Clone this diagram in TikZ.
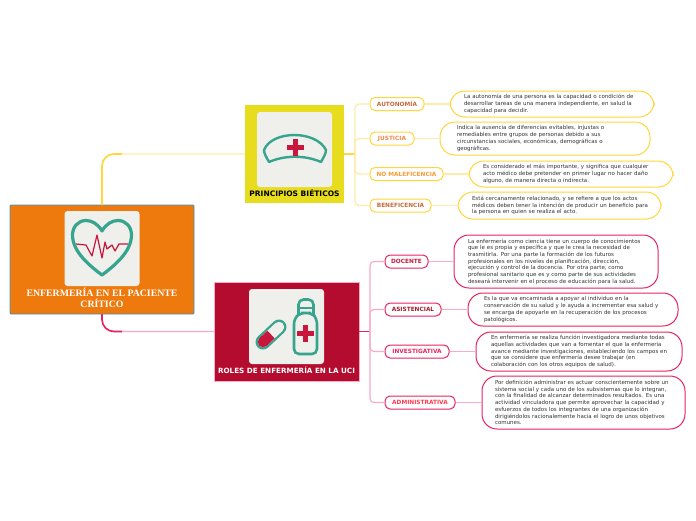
\documentclass[tikz,border=0pt]{standalone}
\usepackage{fontspec}
\setmainfont{DejaVu Sans}
\newfontfamily\titlefont{Liberation Serif}
\usetikzlibrary{positioning}

\definecolor{rootorange}{HTML}{EE7A0D}
\definecolor{rootblue}{HTML}{3C92C8}
\definecolor{bioyellow}{HTML}{E8DC1E}
\definecolor{rolered}{HTML}{B30C2E}
\definecolor{panelgrey}{HTML}{EFEFEC}
\definecolor{iconteal}{HTML}{37A58D}
\definecolor{iconred}{HTML}{C9163D}
\definecolor{lineyellow}{HTML}{FFEBA8}
\definecolor{edgeyellow}{HTML}{FFD63C}
\definecolor{linepink}{HTML}{F9AAC6}
\definecolor{edgepink}{HTML}{E6245F}
\definecolor{bodygrey}{HTML}{333333}
\definecolor{tagbrown}{HTML}{C8693B}
\definecolor{tagsalmon}{HTML}{F0884F}
\definecolor{tagorange}{HTML}{FF9A2E}
\definecolor{tagmaroon}{HTML}{A0202F}
\definecolor{tagscarlet}{HTML}{FF3B50}

\tikzset{
    panel/.style={fill=panelgrey, rounded corners=3pt, minimum width=75pt, minimum height=75pt, inner sep=0pt},
    topic/.style={inner sep=0pt, outer sep=0pt},
    headline/.style={inner sep=0pt, font=\bfseries\fontsize{#1}{8}\selectfont},
    tag/.style={draw=#1, fill=white, line width=1pt, rounded corners=5pt, inner sep=0pt, minimum height=13pt, font=\bfseries\fontsize{5.8}{6}\selectfont},
    detail/.style={draw=#1, fill=white, line width=1pt, rounded corners=15pt, inner ysep=0pt, inner xsep=4pt, align=left, text=bodygrey, font=\fontsize{5.5}{6.7}\selectfont},
    pad/.style={execute at begin node={\leftskip=#1pt}},
    yellowlink/.style={draw=lineyellow, line width=1.3pt, rounded corners=4pt},
    pinklink/.style={draw=linepink, line width=1.2pt, rounded corners=4pt}
}

\begin{document}
\begin{tikzpicture}[x=1pt, y=-1pt]
    \useasboundingbox (0,0) rectangle (696,520);

    % main topics
    \node[topic, fill=rootorange, draw=rootblue, line width=0.9pt, rounded corners=1pt, minimum width=184pt, minimum height=109pt] (root) at (102,259.5) {};
    \node[topic, fill=bioyellow, minimum width=99pt, minimum height=98pt] (bioetica) at (294.5,154) {};
    \node[topic, fill=rolered, draw=linepink, line width=0.5pt, minimum width=145pt, minimum height=99pt] (roles) at (286.5,331.5) {};

    % root links
    \draw[draw=lineyellow, line width=1.2pt, rounded corners=12pt] (root.north) |- (bioetica.west);
    \coordinate (rootbendtop) at (122,154);
    \draw[draw=edgeyellow, line width=1.6pt, rounded corners=12pt] (root.north) |- (rootbendtop);
    \draw[draw=linepink, line width=1.2pt, rounded corners=12pt] (root.south) |- (roles.west);
    \coordinate (rootbendlow) at (122,331.5);
    \draw[draw=edgepink, line width=1.6pt, rounded corners=12pt] (root.south) |- (rootbendlow);

    % pictures and titles
    \node[panel] (heartpanel) at (102,248.5) {};
    \node[panel] (cappanel) at (294.5,149.5) {};
    \node[panel] (bottlepanel) at (286.5,326.5) {};

    \node[inner sep=0pt, align=center, text=white, font=\titlefont\bfseries\fontsize{9.8}{11}\selectfont] (roottitle) at (102,298) {ENFERMERÍA EN EL PACIENTE\\CRÍTICO};
    \node[headline=7.5, text=black] (biotitle) at (294.5,193) {PRINCIPIOS BIÉTICOS};
    \node[headline=7.2, text=white] (rolestitle) at (286.5,370) {ROLES DE ENFERMERÍA EN LA UCI};

    % heart
    \draw[iconteal, line width=3.2pt, line join=round] (102,231) .. controls (98,224) and (92,220.5) .. (86,220.5) .. controls (78,220.5) and (72.5,227) .. (72.5,235) .. controls (72.5,252) and (90,266) .. (102,275) .. controls (114,266) and (131.5,252) .. (131.5,235) .. controls (131.5,227) and (126,220.5) .. (118,220.5) .. controls (112,220.5) and (106,224) .. (102,231) -- cycle;
    \draw[iconred, line width=1.2pt, line join=round] (76,244) -- (86,245) -- (92,256) -- (97,235) -- (102,258) -- (105,242) -- (107,249) -- (112,245) -- (115,251) -- (119,244) -- (128,244);

    % nurse cap
    \draw[iconteal, line width=2.4pt, line join=round] (264,150) .. controls (272,130) and (316,130) .. (326,150) .. controls (326,154) and (323,158) .. (321,162) .. controls (305,155) and (285,155) .. (269,162) .. controls (267,158) and (264,154) .. cycle;
    \fill[iconred] (292.5,139) rectangle (297.5,156);
    \fill[iconred] (286.5,145) rectangle (303.5,150);

    % capsule
    \draw[iconteal, line width=15pt, line cap=round] (263,342) -- (279,327);
    \draw[panelgrey, line width=10.5pt, line cap=round] (263,342) -- (279,327);
    \draw[iconred, line width=10.5pt, line cap=round] (263,342) -- (265,340);
    \draw[iconred, line width=10.5pt] (263,342) -- (271,334.5);

    % bottle
    \draw[iconteal, line width=2.6pt, rounded corners=5pt] (298.5,315) -- (298.5,299.5) -- (313.5,299.5) -- (313.5,315);
    \draw[iconteal, line width=2.2pt] (298.5,308) -- (313.5,308);
    \draw[iconteal, line width=2.6pt, rounded corners=5pt] (306,313) -- (312,313) -- (317,319) -- (317,354) -- (294,354) -- (294,319) -- (300,313) -- cycle;
    \fill[iconred] (303,325) rectangle (308,342);
    \fill[iconred] (297,331) rectangle (314,336);

    % bioethics branch
    \node[tag=edgeyellow, text=tagbrown, minimum width=54pt] (autonomia) at (397,104) {AUTONOMÍA};
    \node[tag=edgeyellow, text=tagsalmon, minimum width=44pt] (justicia) at (392,138.5) {JUSTICIA};
    \node[tag=edgeyellow, text=tagorange, minimum width=73pt] (nomaleficencia) at (406.5,174) {NO MALEFICENCIA};
    \node[tag=edgeyellow, text=tagbrown, minimum width=61pt] (beneficencia) at (400.5,205.5) {BENEFICENCIA};

    \coordinate[right=11pt of bioetica.east] (biobus);
    \draw[draw=edgeyellow, line width=1.2pt] (bioetica.east) -- (biobus);
    \foreach \n in {autonomia,justicia,nomaleficencia,beneficencia}
        \draw[yellowlink] (biobus) |- (\n.west);

    \node[detail=edgeyellow, pad=10, text width=196pt, minimum height=26pt] (autonomia-text) at (552,104) {La autonomía de una persona es la capacidad o condición de\\desarrollar tareas de una manera independiente, en salud la\\capacidad para decidir.};
    \node[detail=edgeyellow, pad=13, text width=202pt, minimum height=33pt] (justicia-text) at (545,138.5) {Indica la ausencia de diferencias evitables, injustas o\\remediables entre grupos de personas debido a sus\\circunstancias sociales, económicas, demográficas o\\geográficas.};
    \node[detail=edgeyellow, pad=10, text width=196pt, minimum height=26pt] (nomaleficencia-text) at (571,174) {Es considerado el más importante, y significa que cualquier\\acto médico debe pretender en primer lugar no hacer daño\\alguno, de manera directa o indirecta.};
    \node[detail=edgeyellow, pad=10, text width=195pt, minimum height=27pt] (beneficencia-text) at (559.5,205.5) {Está cercanamente relacionado, y se refiere a que los actos\\médicos deben tener la intención de producir un beneficio para\\la persona en quien se realiza el acto.};

    \foreach \n in {autonomia,justicia,nomaleficencia,beneficencia}
        \draw[yellowlink] (\n.east) -- (\n-text.west);

    % roles branch
    \node[tag=edgepink, text=iconred, minimum width=43pt] (docente) at (406.5,261.5) {DOCENTE};
    \node[tag=edgepink, text=tagmaroon, minimum width=56pt] (asistencial) at (413,309.5) {ASISTENCIAL};
    \node[tag=edgepink, text=edgepink, minimum width=64pt] (investigativa) at (417,351.5) {INVESTIGATIVA};
    \node[tag=edgepink, text=tagscarlet, minimum width=70pt] (administrativa) at (420,402.5) {ADMINISTRATIVA};

    \coordinate[right=11pt of roles.east] (rolesbus);
    \draw[draw=edgepink, line width=1.2pt] (roles.east) -- (rolesbus);
    \foreach \n in {docente,asistencial,investigativa,administrativa}
        \draw[pinklink] (rolesbus) |- (\n.west);

    \node[detail=edgepink, pad=10, text width=196pt, minimum height=53pt] (docente-text) at (556,261.5) {La enfermería como ciencia tiene un cuerpo de conocimientos\\que le es propia y específica y que le crea la necesidad de\\trasmitirla. Por una parte la formación de los futuros\\profesionales en los niveles de planificación, dirección,\\ejecución y control de la docencia. Por otra parte, como\\profesional sanitario que es y como parte de sus actividades\\deseará intervenir en el proceso de educación para la salud.};
    \node[detail=edgepink, pad=12, text width=202pt, minimum height=33pt] (asistencial-text) at (573,309.5) {Es la que va encaminada a apoyar al individuo en la\\conservación de su salud y le ayuda a incrementar esa salud y\\se encarga de apoyarle en la recuperación de los procesos\\patológicos.};
    \node[detail=edgepink, pad=11, text width=198pt, minimum height=39pt] (investigativa-text) at (579,351.5) {En enfermería se realiza función investigadora mediante todas\\aquellas actividades que van a fomentar el que la enfermería\\avance mediante investigaciones, estableciendo los campos en\\que se considere que enfermería desee trabajar (en\\colaboración con los otros equipos de salud).};
    \node[detail=edgepink, pad=9, text width=195pt, minimum height=53pt] (administrativa-text) at (583.5,402.5) {Por definición administrar es actuar conscientemente sobre un\\sistema social y cada uno de los subsistemas que lo integran,\\con la finalidad de alcanzar determinados resultados. Es una\\actividad vinculadora que permite aprovechar la capacidad y\\esfuerzos de todos los integrantes de una organización\\dirigiéndolos racionalemente hacia el logro de unos objetivos\\comunes.};

    \foreach \n in {docente,asistencial,investigativa,administrativa}
        \draw[pinklink] (\n.east) -- (\n-text.west);
\end{tikzpicture}
\end{document}
